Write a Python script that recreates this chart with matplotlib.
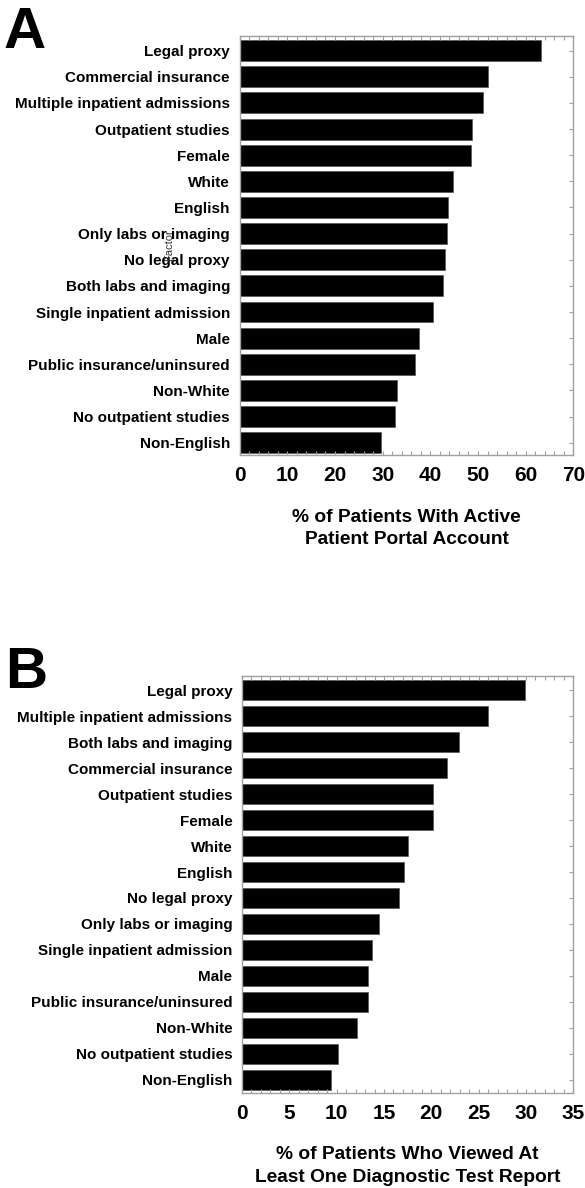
import numpy as np
import matplotlib
matplotlib.use('Agg')
import matplotlib.pyplot as plt
from matplotlib.ticker import MultipleLocator

plt.rcParams['font.family'] = ['Liberation Sans', 'DejaVu Sans']

# Panel A - active patient portal account (%)
factors_a = ['Legal proxy', 'Commercial insurance', 'Multiple inpatient admissions',
             'Outpatient studies', 'Female', 'White', 'English', 'Only labs or imaging',
             'No legal proxy', 'Both labs and imaging', 'Single inpatient admission',
             'Male', 'Public insurance/uninsured', 'Non-White', 'No outpatient studies',
             'Non-English']
values_a = [63.2, 52.2, 51.1, 48.7, 48.6, 44.7, 43.7, 43.6, 43.0, 42.7, 40.6,
            37.6, 36.8, 33.0, 32.5, 29.6]

# Panel B - viewed at least one diagnostic test report (%)
factors_b = ['Legal proxy', 'Multiple inpatient admissions', 'Both labs and imaging',
             'Commercial insurance', 'Outpatient studies', 'Female', 'White', 'English',
             'No legal proxy', 'Only labs or imaging', 'Single inpatient admission',
             'Male', 'Public insurance/uninsured', 'Non-White', 'No outpatient studies',
             'Non-English']
values_b = [29.9, 26.0, 22.9, 21.7, 20.2, 20.2, 17.5, 17.1, 16.6, 14.5, 13.7,
            13.3, 13.3, 12.1, 10.1, 9.4]

W, H = 585, 1188
fig = plt.figure(figsize=(W/100, H/100), dpi=100)


def bar_panel(rect, factors, values, xmax, major, minor, xlabel, ylim):
    ax = fig.add_axes(rect)
    y = np.arange(len(factors))
    ax.barh(y, values, height=0.8, color='black', edgecolor='#555555', linewidth=0.5)
    ax.set_xlim(0, xmax)
    ax.set_ylim(*ylim)
    ax.set_yticks(y)
    ax.set_yticklabels(factors, fontsize=11, fontweight='bold')
    ax.xaxis.set_major_locator(MultipleLocator(major))
    ax.xaxis.set_minor_locator(MultipleLocator(minor))
    for lbl in ax.get_xticklabels():
        lbl.set_fontweight('bold')
    # thin grey frame, small inward ticks on bottom/top/right only
    for s in ax.spines.values():
        s.set_color('#a0a0a0')
        s.set_linewidth(1.0)
    ax.tick_params(axis='x', which='both', direction='in', top=True, bottom=True,
                   length=3, width=0.8, color='#a0a0a0', labelsize=15, pad=8)
    ax.tick_params(axis='y', which='both', direction='in', left=False, right=True,
                   length=3, width=0.8, color='#a0a0a0', pad=7)
    ax.set_xlabel(xlabel, fontsize=13.8, fontweight='bold', labelpad=17, linespacing=1.4)
    return ax


axA = bar_panel([239.7/W, 1-455/H, 333.6/W, 419/H], factors_a, values_a, 70, 10, 2,
                '% of Patients With Active\nPatient Portal Account', (15.47, -0.56))
axA.set_ylabel('Factor', fontsize=8, color='#333333')
axA.yaxis.set_label_coords(-0.197, 0.5)

axB = bar_panel([242/W, 1-1092.7/H, 331.3/W, 416.7/H], factors_b, values_b, 35, 5, 1,
                '% of Patients Who Viewed At\nLeast One Diagnostic Test Report', (15.49, -0.54))

# panel letters
fig.text(4/W, 1-48/H, 'A', fontsize=42, fontweight='bold', va='baseline')
fig.text(5/W, 1-688/H, 'B', fontsize=42, fontweight='bold', va='baseline')

fig.savefig('out.png', dpi=100)
